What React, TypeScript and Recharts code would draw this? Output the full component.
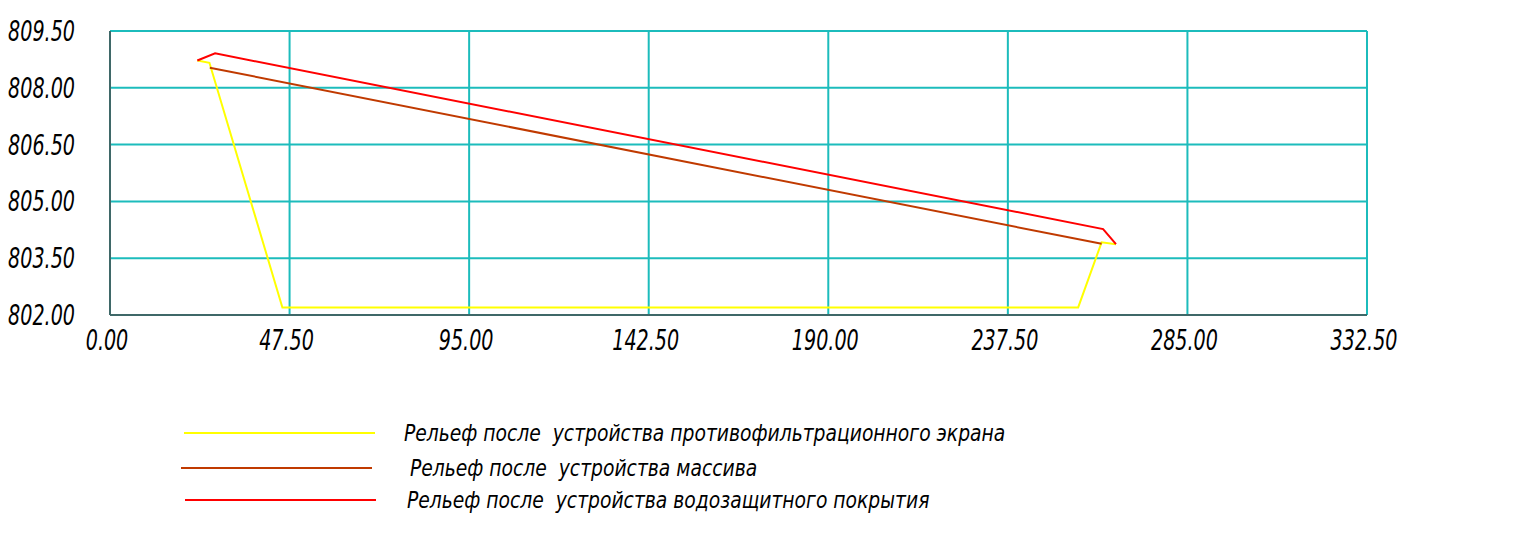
import React from "react";
import { LineChart, Line, XAxis, YAxis, CartesianGrid } from "recharts";

// Отметки рельефа: расстояние (м) и отметка (м)
const screenX = [23.1, 26.3, 45.6, 256.1, 262.3, 266.1];
const screenY = [808.72, 808.66, 802.2, 802.2, 803.92, 803.87];

const massX = [26.4, 262.3];
const massY = [808.53, 803.88];

const coverX = [23.1, 27.8, 262.7, 266.1];
const coverY = [808.72, 808.91, 804.27, 803.87];

const xTicks = [0, 47.5, 95, 142.5, 190, 237.5, 285, 332.5];
const yTicks = [802, 803.5, 805, 806.5, 808, 809.5];

const seriesNames = [
  "Рельеф после  устройства противофильтрационного экрана",
  "Рельеф после  устройства массива",
  "Рельеф после  устройства водозащитного покрытия",
];
const seriesColors = ["#ffff00", "#c03a00", "#ff0000"];

const toPoints = (xs: number[], ys: number[]) => xs.map((x, i) => ({ x, y: ys[i] }));

const series = [
  toPoints(screenX, screenY),
  toPoints(massX, massY),
  toPoints(coverX, coverY),
];

const FONT = "'DejaVu Sans', sans-serif";
const GRID = "#1cbcbc";
const AXIS = "#3f6868";

// узкий наклонный шрифт под ГОСТ — сжимаем по ширине
const XTick = (props: any) => {
  const { x, payload } = props;
  return (
    <text
      transform={`translate(${x - 3}, 340) scale(0.66, 1)`}
      textAnchor="middle"
      dominantBaseline="central"
      fontFamily={FONT}
      fontStyle="italic"
      fontSize={29}
      fill="#000"
    >
      {payload.value.toFixed(2)}
    </text>
  );
};

const YTick = (props: any) => {
  const { y, payload } = props;
  return (
    <text
      transform={`translate(75, ${y}) scale(0.66, 1)`}
      textAnchor="end"
      dominantBaseline="central"
      fontFamily={FONT}
      fontStyle="italic"
      fontSize={29}
      fill="#000"
    >
      {payload.value.toFixed(2)}
    </text>
  );
};

const legendRows = [
  { x1: 184, x2: 375, y: 433, tx: 404 },
  { x1: 181, x2: 372, y: 468, tx: 410 },
  { x1: 185, x2: 376, y: 500, tx: 407 },
];

export default function App() {
  return (
    <div style={{ position: "absolute", left: 0, top: 0, width: 1530, height: 540, background: "#fff" }}>
      <LineChart width={1530} height={540} margin={{ top: 31, right: 163, left: 0, bottom: 185 }}>
        <CartesianGrid stroke={GRID} strokeWidth={2} horizontalValues={yTicks} verticalValues={xTicks} />
        <XAxis
          type="number"
          dataKey="x"
          domain={[0, 332.5]}
          ticks={xTicks}
          stroke={AXIS}
          strokeWidth={2}
          tickLine={false}
          height={40}
          interval={0}
          tick={<XTick />}
          allowDataOverflow
        />
        <YAxis
          type="number"
          dataKey="y"
          domain={[802, 809.5]}
          ticks={yTicks}
          stroke={AXIS}
          strokeWidth={2}
          tickLine={false}
          width={110}
          interval={0}
          tick={<YTick />}
          allowDataOverflow
        />
        {series.map((pts, i) => (
          <Line
            key={i}
            data={pts}
            dataKey="y"
            name={seriesNames[i]}
            type="linear"
            stroke={seriesColors[i]}
            strokeWidth={2}
            dot={false}
            activeDot={false}
            isAnimationActive={false}
          />
        ))}
      </LineChart>
      <svg width={1530} height={540} style={{ position: "absolute", left: 0, top: 0, pointerEvents: "none" }}>
        {legendRows.map((r, i) => (
          <g key={i}>
            <line x1={r.x1} x2={r.x2} y1={r.y} y2={r.y} stroke={seriesColors[i]} strokeWidth={2} />
            <text
              transform={`translate(${r.tx}, ${r.y}) scale(0.815, 1)`}
              dominantBaseline="central"
              fontFamily={FONT}
              fontStyle="italic"
              fontSize={23}
              fill="#000"
              style={{ whiteSpace: "pre" }}
            >
              {seriesNames[i]}
            </text>
          </g>
        ))}
      </svg>
    </div>
  );
}
